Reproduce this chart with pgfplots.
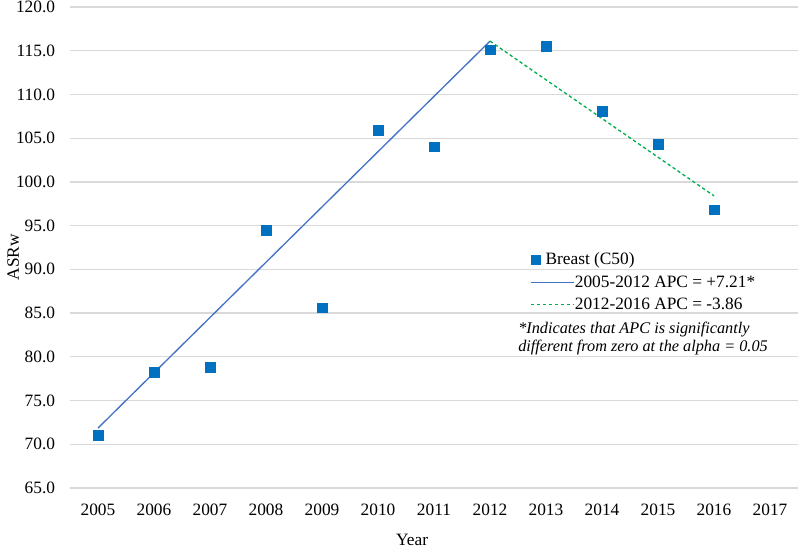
\documentclass[border=0pt]{standalone}
\usepackage{pgfplots}
\pgfplotsset{compat=1.18}
\usepackage{fontspec}
\setmainfont{Liberation Serif}
\definecolor{mblue}{HTML}{0070C0}
\definecolor{lblue}{HTML}{4472C4}
\definecolor{lgreen}{HTML}{00B050}
\definecolor{gridc}{HTML}{D9D9D9}
\pgfplotsset{
  sqlegend/.style={legend image code/.code={\draw[##1] plot coordinates {(3.75pt,0pt)};}},
  lnlegend/.style={legend image code/.code={\draw[##1] (0pt,0pt) -- (32pt,0pt);}},
}
\begin{document}
\begin{tikzpicture}
\path[use as bounding box] (-52.5pt,-45pt) rectangle (547.5pt,366pt);
\begin{axis}[
  scale only axis, width=546pt, height=360.75pt,
  anchor=south west, at={(0pt,0pt)},
  xmin=2004.5, xmax=2017.5, ymin=65, ymax=120,
  xtick={2005,2006,...,2017}, ytick={65,70,...,120},
  axis line style={draw=none},
  major tick length=0pt,
  ymajorgrids, grid style={color=gridc, line width=0.9pt},
  font=\fontsize{13}{15.6}\selectfont,
  /pgf/number format/assume math mode=true,
  xticklabel style={/pgf/number format/1000 sep={}, yshift=-8.4pt},
  yticklabel style={/pgf/number format/fixed, /pgf/number format/fixed zerofill, /pgf/number format/precision=1, xshift=-7.7pt},
  xlabel={Year},
  xlabel style={at={(axis description cs:0.47,0)}, anchor=north, yshift=-31pt},
  ylabel={ASRw},
  ylabel style={at={(axis description cs:0,0.48)}, anchor=south, rotate=0, yshift=34.7pt},
  legend style={at={(axis description cs:0.6318,0.495)}, anchor=north west, draw=none, fill=none, inner sep=0pt, row sep=2.6pt, nodes={inner xsep=0.5pt}, font=\fontsize{13}{15.6}\selectfont},
  legend cell align=left,
  clip=false,
]
\addplot[only marks, mark=square*, mark size=3.6pt, color=mblue, sqlegend]
  coordinates {(2005,71.0) (2006,78.2) (2007,78.8) (2008,94.5) (2009,85.6) (2010,105.9) (2011,104.0) (2012,115.1) (2013,115.5) (2014,108.1) (2015,104.3) (2016,96.8)};
\addlegendentry{\hspace*{-22pt}Breast (C50)}
\addplot[color=lblue, line width=1pt, no marks, lnlegend]
  coordinates {(2005,71.85) (2012,116.1)};
\addlegendentry{2005-2012 APC = +7.21*}
\addplot[color=lgreen, line width=1pt, no marks, dash pattern=on 2.5pt off 2pt, lnlegend]
  coordinates {(2012,116.1) (2016,98.4)};
\addlegendentry{2012-2016 APC = -3.86}
\node[anchor=base west, inner sep=0pt, font=\fontsize{12.2}{14}\selectfont\itshape] at (axis description cs:0.6154,0.3202) {*Indicates that APC is significantly};
\node[anchor=base west, inner sep=0pt, font=\fontsize{12.2}{14}\selectfont\itshape] at (axis description cs:0.6154,0.2836) {different from zero at the alpha = 0.05};
\end{axis}
\end{tikzpicture}
\end{document}
